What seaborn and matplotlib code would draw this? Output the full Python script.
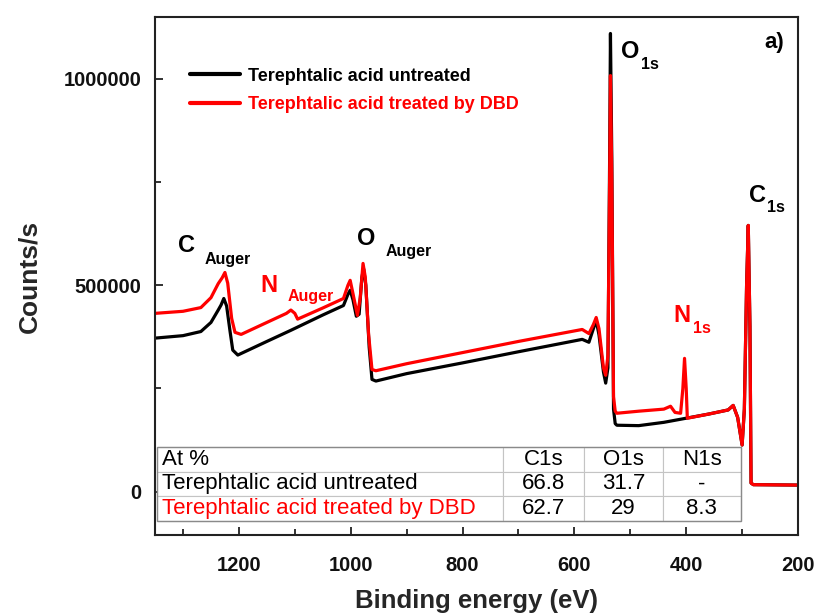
import numpy as np
import pandas as pd
import matplotlib
matplotlib.use("Agg")
import matplotlib.pyplot as plt
from matplotlib.patches import Rectangle
from matplotlib.ticker import MultipleLocator
import seaborn as sns

# XPS survey spectra: binding energy (eV) and intensity (counts/s)
untreated_energy = [1350, 1300, 1268, 1250, 1237, 1232, 1227, 1222, 1216, 1211, 1202,
                    1150, 1107, 1050, 1013, 1005, 1001, 996, 990, 985, 980, 977, 973,
                    967, 962, 955, 900, 800, 700, 586, 574, 566, 561, 556, 548, 544,
                    540, 537, 535.5, 533, 530, 527, 524, 485, 440, 400, 360, 325, 316,
                    308, 300, 296, 292, 289, 286, 284, 280, 200]
untreated_counts = [372e3, 378e3, 388e3, 410e3, 440e3, 452e3, 468e3, 450e3, 390e3, 343e3, 331e3,
                    364e3, 391e3, 428e3, 451e3, 478e3, 488e3, 465e3, 425e3, 430e3, 520e3, 540e3, 500e3,
                    350e3, 272e3, 268e3, 286e3, 312e3, 339e3, 369e3, 362e3, 395e3, 415e3, 380e3, 290e3, 263e3,
                    300e3, 800e3, 1110e3, 800e3, 200e3, 165e3, 161e3, 160e3, 168e3, 178e3, 188e3, 198e3, 209e3,
                    180e3, 113e3, 200e3, 500e3, 645e3, 400e3, 21e3, 17e3, 16e3]

treated_energy = [1350, 1300, 1268, 1250, 1237, 1230, 1225, 1220, 1213, 1207, 1196,
                  1150, 1115, 1107, 1100, 1095, 1050, 1013, 1005, 1001, 996, 988, 983,
                  978, 974, 968, 962, 955, 900, 800, 700, 586, 574, 566, 561, 556, 548,
                  544, 540, 537, 535.5, 533, 530, 527, 524, 485, 440, 428, 420, 410, 406,
                  403, 400, 398, 360, 325, 316, 308, 300, 296, 292, 289, 286, 284, 280, 200]
treated_counts = [432e3, 437e3, 446e3, 470e3, 504e3, 518e3, 531e3, 505e3, 420e3, 386e3, 381e3,
                  410e3, 432e3, 440e3, 432e3, 418e3, 445e3, 468e3, 500e3, 512e3, 480e3, 427e3, 470e3,
                  553e3, 520e3, 380e3, 296e3, 293e3, 310e3, 337e3, 364e3, 393e3, 383e3, 405e3, 422e3, 395e3, 300e3,
                  282e3, 330e3, 750e3, 1008e3, 750e3, 230e3, 195e3, 190e3, 195e3, 200e3, 207e3, 192e3, 190e3, 250e3,
                  323e3, 250e3, 178e3, 188e3, 198e3, 209e3, 180e3, 113e3, 200e3, 500e3, 645e3, 400e3, 21e3, 17e3, 16e3]

series_names = ["Terephtalic acid untreated", "Terephtalic acid treated by DBD"]
series_colors = ["#000000", "#ff0000"]

# Atomic composition table
table_header = ["At %", "C1s", "O1s", "N1s"]
table_rows = [["Terephtalic acid untreated", "66.8", "31.7", "-"],
              ["Terephtalic acid treated by DBD", "62.7", "29", "8.3"]]

x_ticks = [1200, 1000, 800, 600, 400, 200]
y_ticks = [0, 500000, 1000000]

df = pd.concat([
    pd.DataFrame({"energy": untreated_energy, "counts": untreated_counts, "sample": series_names[0]}),
    pd.DataFrame({"energy": treated_energy, "counts": treated_counts, "sample": series_names[1]}),
], ignore_index=True)

sns.set_style("ticks")
plt.rcParams["font.family"] = ["Liberation Sans", "DejaVu Sans"]

fig = plt.figure(figsize=(8.19, 6.13), dpi=100)
ax = fig.add_axes([0.1893, 0.1272, 0.7851, 0.8451])

sns.lineplot(data=df, x="energy", y="counts", hue="sample", hue_order=series_names,
             palette=dict(zip(series_names, series_colors)), estimator=None,
             linewidth=2.3, ax=ax)

ax.set_xlim(1350, 200)
ax.set_ylim(-105000, 1150000)
ax.set_xticks(x_ticks)
ax.set_xticklabels([str(v) for v in x_ticks])
ax.set_yticks(y_ticks)
ax.set_yticklabels([str(v) for v in y_ticks])
ax.xaxis.set_minor_locator(MultipleLocator(100))
ax.yaxis.set_minor_locator(MultipleLocator(250000))
ax.tick_params(which="both", direction="in", top=False, right=False, width=1.3, colors="#222222")
ax.tick_params(which="major", length=6)
ax.tick_params(which="minor", length=4)
ax.tick_params(axis="x", which="major", pad=15, labelsize=14.5)
ax.tick_params(axis="y", which="major", pad=10, labelsize=14.5)
for lab in ax.get_xticklabels() + ax.get_yticklabels():
    lab.set_fontweight("bold")
    lab.set_color("#111111")
for sp in ax.spines.values():
    sp.set_linewidth(1.5)
    sp.set_color("#222222")

ax.set_xlabel("Binding energy (eV)", fontsize=18.5, fontweight="bold", labelpad=10)
ax.set_ylabel("Counts/s", fontsize=19, fontweight="bold", labelpad=16)

# Legend with coloured labels
leg = ax.legend(loc="upper left", bbox_to_anchor=(0.054, 0.902), frameon=False,
                prop={"size": 13, "weight": "bold"}, handlelength=2.8, handletextpad=0.4,
                borderpad=0, borderaxespad=0, labelspacing=0.65)
for txt, col in zip(leg.get_texts(), series_colors):
    txt.set_color(col)
for line in leg.get_lines():
    line.set_linewidth(3)

# Peak labels
big = dict(fontsize=17, fontweight="bold", va="center", ha="left")
small = dict(fontsize=11.5, fontweight="bold", va="center", ha="left")
ax.text(1309, 597e3, "C", color="black", **big)
ax.text(1262, 562e3, "Auger", color="black", **small)
ax.text(1161, 500e3, "N", color="red", **big)
ax.text(1113, 473e3, "Auger", color="red", **small)
ax.text(988, 613e3, "O", color="black", **big)
ax.text(938, 582e3, "Auger", color="black", **small)
ax.text(517, 1066e3, "O", color="black", **big)
ax.text(480, 1034e3, "1s", color="black", **small)
ax.text(287, 717e3, "C", color="black", **big)
ax.text(255, 688e3, "1s", color="black", **small)
ax.text(423, 428e3, "N", color="red", **big)
ax.text(388, 396e3, "1s", color="red", **small)
ax.text(224, 1088e3, "a)", color="black", fontsize=16, fontweight="bold", va="center", ha="right")

# Composition table
cell_text = [table_header] + table_rows
tbl = ax.table(cellText=cell_text, colWidths=[0.592, 0.140, 0.134, 0.134],
               cellLoc="center", bbox=[0.003, 0.027, 0.908, 0.143], zorder=5)
tbl.auto_set_font_size(False)
for (r, c), cell in tbl.get_celld().items():
    cell.set_edgecolor("#c4c4c4")
    cell.set_linewidth(0.8)
    cell.set_facecolor("white")
    cell.get_text().set_fontsize(16)
    cell.get_text().set_color("red" if (r == 2 and c == 0) else "black")
    if c == 0:
        cell.PAD = 0.015
        cell.get_text().set_ha("left")
        cell._loc = "left"
ax.add_patch(Rectangle((0.003, 0.027), 0.908, 0.143, transform=ax.transAxes,
                       fill=False, edgecolor="#8a8a8a", linewidth=1.0, zorder=6))

fig.savefig("out.png", dpi=100)
